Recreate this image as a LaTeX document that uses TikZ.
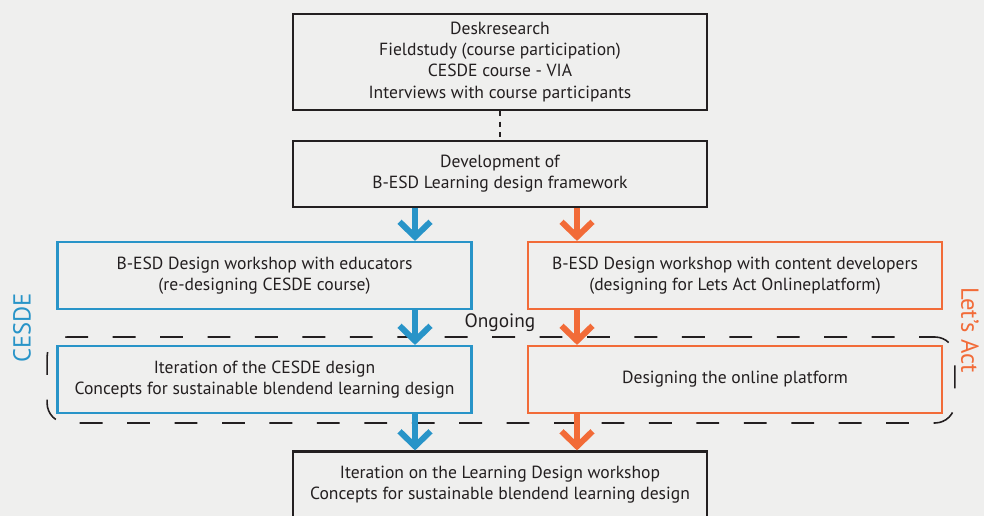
\documentclass[tikz,border=0pt]{standalone}
\usepackage{fontspec}
\setmainfont{PT Sans}
\usetikzlibrary{arrows.meta}
\definecolor{esdblue}{HTML}{2894C8}
\definecolor{letsorange}{HTML}{F26B38}
\definecolor{bggray}{HTML}{EFEFEE}
\definecolor{ink}{HTML}{231F20}

\begin{document}
\begin{tikzpicture}[x=0.02cm,y=-0.02cm,
  box/.style={draw=ink,line width=1.2pt,align=center,text=ink,
    font=\fontsize{10}{12}\selectfont,inner sep=0pt,minimum width=8.28cm},
  bluebox/.style={box,draw=esdblue},
  orangebox/.style={box,draw=letsorange},
  flow/.style={line width=3.4pt,-{Straight Barb[length=0.3cm,width=0.62cm]}},
  ongoingbox/.style={draw=ink,line width=0.9pt,rounded corners=0.4cm,
    dash pattern=on 13pt off 14pt,dash phase=4pt}
]
\fill[bggray] (0,0) rectangle (984,516);
\useasboundingbox (0,0) rectangle (984,516);

% boxes
\node[box,minimum height=1.92cm] (desk) at (500,62)
  {Deskresearch\\Fieldstudy (course participation)\\CESDE course - VIA\\Interviews with course participants};
\node[box,minimum height=1.32cm] (dev) at (500,174)
  {Development of\\B-ESD Learning design framework};
\node[bluebox,minimum height=1.34cm] (edu) at (264.5,275.5)
  {B-ESD Design workshop with educators\\(re-designing CESDE course)};
\node[orangebox,minimum height=1.34cm] (content) at (735,275.5)
  {B-ESD Design workshop with content developers\\(designing for Lets Act Onlineplatform)};
\node[bluebox,minimum height=1.34cm] (iter) at (264.5,379.5)
  {Iteration of the CESDE design\\Concepts for sustainable blendend learning design};
\node[orangebox,minimum height=1.34cm] (online) at (735,379.5)
  {Designing the online platform};
\node[box,minimum height=1.34cm] (final) at (500,485)
  {Iteration on the Learning Design workshop\\Concepts for sustainable blendend learning design};

\draw[ink,line width=1.2pt,dashed] (desk.south) -- (dev.north);

% ongoing phase
\node[ongoingbox,minimum width=18.16cm,minimum height=1.72cm] (ongoing) at (501,380) {};
\node[text=ink,font=\fontsize{11}{12}\selectfont] (ongoinglabel) at (500,323) {Ongoing};

% flows
\coordinate (bx) at (415,0);
\coordinate (ox) at (577,0);
\draw[flow,esdblue] (dev.south -| bx) -- (edu.north -| bx);
\draw[flow,esdblue] (edu.south -| bx) -- (iter.north -| bx);
\draw[flow,esdblue] (iter.south -| bx) -- (final.north -| bx);
\draw[flow,letsorange] (dev.south -| ox) -- (content.north -| ox);
\draw[flow,letsorange] (content.south -| ox) -- (online.north -| ox);
\draw[flow,letsorange] (online.south -| ox) -- (final.north -| ox);

% side labels
\node[rotate=90,text=esdblue,font=\fontsize{14}{14}\selectfont] (cesde) at (22,328) {CESDE};
\node[rotate=-90,text=letsorange,font=\fontsize{14}{14}\selectfont] (letsact) at (970,330) {Let’s Act};
\end{tikzpicture}
\end{document}
